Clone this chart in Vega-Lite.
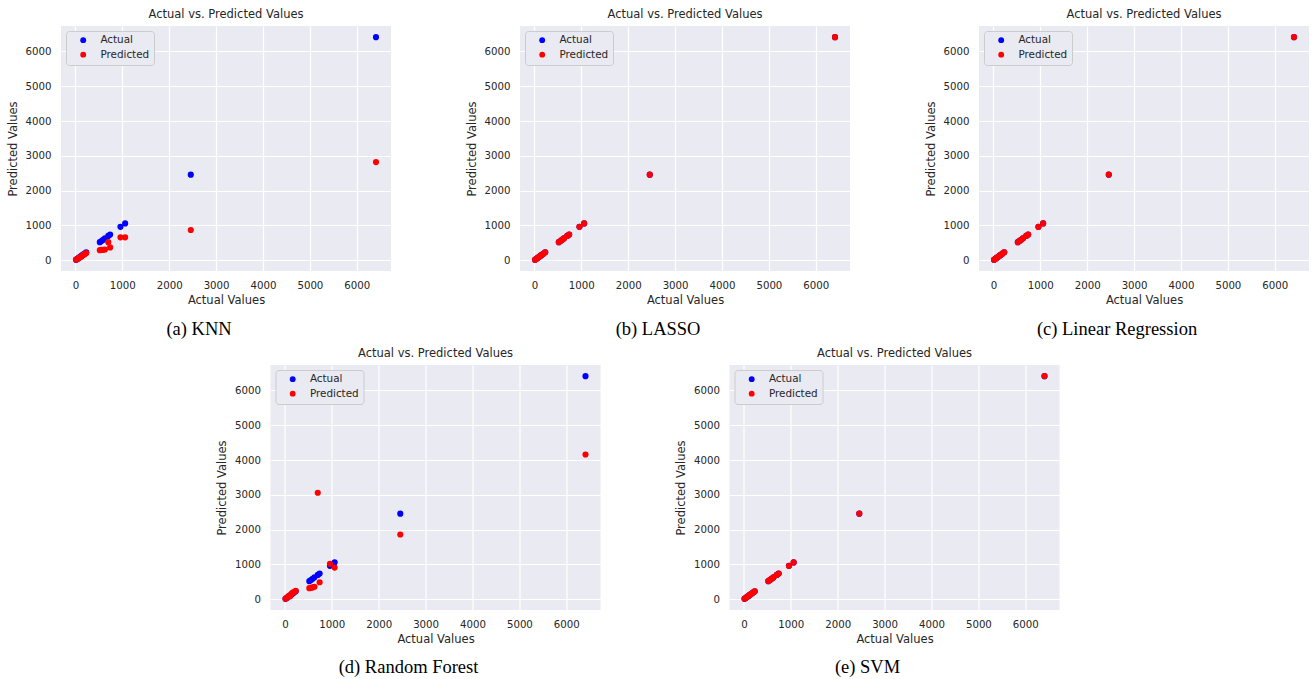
{
  "$schema": "https://vega.github.io/schema/vega-lite/v6.json",
  "padding": {"left": 7, "top": 8, "right": 5, "bottom": 5},
  "background": "#ffffff",
  "datasets": {
    "pts": [
      {"model": "KNN", "Actual": 12, "Predicted": 20},
      {"model": "KNN", "Actual": 35, "Predicted": 30},
      {"model": "KNN", "Actual": 60, "Predicted": 50},
      {"model": "KNN", "Actual": 85, "Predicted": 75},
      {"model": "KNN", "Actual": 110, "Predicted": 95},
      {"model": "KNN", "Actual": 140, "Predicted": 120},
      {"model": "KNN", "Actual": 165, "Predicted": 150},
      {"model": "KNN", "Actual": 195, "Predicted": 175},
      {"model": "KNN", "Actual": 230, "Predicted": 205},
      {"model": "KNN", "Actual": 520, "Predicted": 290},
      {"model": "KNN", "Actual": 555, "Predicted": 300},
      {"model": "KNN", "Actual": 590, "Predicted": 300},
      {"model": "KNN", "Actual": 630, "Predicted": 310},
      {"model": "KNN", "Actual": 700, "Predicted": 520},
      {"model": "KNN", "Actual": 740, "Predicted": 370},
      {"model": "KNN", "Actual": 960, "Predicted": 660},
      {"model": "KNN", "Actual": 1060, "Predicted": 660},
      {"model": "KNN", "Actual": 2460, "Predicted": 870},
      {"model": "KNN", "Actual": 6410, "Predicted": 2820},
      {"model": "LASSO", "Actual": 12, "Predicted": 14},
      {"model": "LASSO", "Actual": 35, "Predicted": 37},
      {"model": "LASSO", "Actual": 60, "Predicted": 59},
      {"model": "LASSO", "Actual": 85, "Predicted": 87},
      {"model": "LASSO", "Actual": 110, "Predicted": 111},
      {"model": "LASSO", "Actual": 140, "Predicted": 139},
      {"model": "LASSO", "Actual": 165, "Predicted": 166},
      {"model": "LASSO", "Actual": 195, "Predicted": 194},
      {"model": "LASSO", "Actual": 230, "Predicted": 229},
      {"model": "LASSO", "Actual": 520, "Predicted": 521},
      {"model": "LASSO", "Actual": 555, "Predicted": 554},
      {"model": "LASSO", "Actual": 590, "Predicted": 591},
      {"model": "LASSO", "Actual": 630, "Predicted": 629},
      {"model": "LASSO", "Actual": 700, "Predicted": 701},
      {"model": "LASSO", "Actual": 740, "Predicted": 739},
      {"model": "LASSO", "Actual": 960, "Predicted": 961},
      {"model": "LASSO", "Actual": 1060, "Predicted": 1059},
      {"model": "LASSO", "Actual": 2460, "Predicted": 2459},
      {"model": "LASSO", "Actual": 6410, "Predicted": 6409},
      {"model": "LR", "Actual": 12, "Predicted": 13},
      {"model": "LR", "Actual": 35, "Predicted": 36},
      {"model": "LR", "Actual": 60, "Predicted": 61},
      {"model": "LR", "Actual": 85, "Predicted": 86},
      {"model": "LR", "Actual": 110, "Predicted": 109},
      {"model": "LR", "Actual": 140, "Predicted": 141},
      {"model": "LR", "Actual": 165, "Predicted": 164},
      {"model": "LR", "Actual": 195, "Predicted": 196},
      {"model": "LR", "Actual": 230, "Predicted": 231},
      {"model": "LR", "Actual": 520, "Predicted": 519},
      {"model": "LR", "Actual": 555, "Predicted": 556},
      {"model": "LR", "Actual": 590, "Predicted": 589},
      {"model": "LR", "Actual": 630, "Predicted": 631},
      {"model": "LR", "Actual": 700, "Predicted": 699},
      {"model": "LR", "Actual": 740, "Predicted": 741},
      {"model": "LR", "Actual": 960, "Predicted": 959},
      {"model": "LR", "Actual": 1060, "Predicted": 1061},
      {"model": "LR", "Actual": 2460, "Predicted": 2461},
      {"model": "LR", "Actual": 6410, "Predicted": 6411},
      {"model": "RF", "Actual": 12, "Predicted": 15},
      {"model": "RF", "Actual": 35, "Predicted": 40},
      {"model": "RF", "Actual": 60, "Predicted": 55},
      {"model": "RF", "Actual": 85, "Predicted": 100},
      {"model": "RF", "Actual": 110, "Predicted": 90},
      {"model": "RF", "Actual": 140, "Predicted": 160},
      {"model": "RF", "Actual": 165, "Predicted": 190},
      {"model": "RF", "Actual": 195, "Predicted": 210},
      {"model": "RF", "Actual": 230, "Predicted": 240},
      {"model": "RF", "Actual": 520, "Predicted": 320},
      {"model": "RF", "Actual": 555, "Predicted": 330},
      {"model": "RF", "Actual": 590, "Predicted": 340},
      {"model": "RF", "Actual": 630, "Predicted": 360},
      {"model": "RF", "Actual": 700, "Predicted": 3060},
      {"model": "RF", "Actual": 740, "Predicted": 490},
      {"model": "RF", "Actual": 960, "Predicted": 1020},
      {"model": "RF", "Actual": 1060, "Predicted": 910},
      {"model": "RF", "Actual": 2460, "Predicted": 1860},
      {"model": "RF", "Actual": 6410, "Predicted": 4160},
      {"model": "SVM", "Actual": 12, "Predicted": 15},
      {"model": "SVM", "Actual": 35, "Predicted": 37},
      {"model": "SVM", "Actual": 60, "Predicted": 62},
      {"model": "SVM", "Actual": 85, "Predicted": 87},
      {"model": "SVM", "Actual": 110, "Predicted": 112},
      {"model": "SVM", "Actual": 140, "Predicted": 142},
      {"model": "SVM", "Actual": 165, "Predicted": 166},
      {"model": "SVM", "Actual": 195, "Predicted": 196},
      {"model": "SVM", "Actual": 230, "Predicted": 229},
      {"model": "SVM", "Actual": 520, "Predicted": 522},
      {"model": "SVM", "Actual": 555, "Predicted": 556},
      {"model": "SVM", "Actual": 590, "Predicted": 591},
      {"model": "SVM", "Actual": 630, "Predicted": 629},
      {"model": "SVM", "Actual": 700, "Predicted": 701},
      {"model": "SVM", "Actual": 740, "Predicted": 739},
      {"model": "SVM", "Actual": 960, "Predicted": 961},
      {"model": "SVM", "Actual": 1060, "Predicted": 1059},
      {"model": "SVM", "Actual": 2460, "Predicted": 2461},
      {"model": "SVM", "Actual": 6410, "Predicted": 6411}
    ]
  },
  "data": {"name": "pts"},
  "center": true,
  "spacing": 8,
  "resolve": {"scale": {"color": "independent"}, "legend": {"color": "independent"}},
  "vconcat": [
    {
      "hconcat": [
        {
          "title": {"text": "(a) KNN", "orient": "bottom", "anchor": "middle", "font": "Liberation Serif", "fontSize": 18.5, "fontWeight": "normal", "color": "#000000", "offset": 14},
          "resolve": {"scale": {"color": "independent"}, "legend": {"color": "independent"}},
          "vconcat": [
            {
              "title": {"text": "Actual vs. Predicted Values", "frame": "group"},
              "width": 330, "height": 245,
              "transform": [{"filter": "datum.model === 'KNN'"}, {"fold": ["Actual", "Predicted"], "as": ["type", "yval"]}],
              "mark": {"type": "point", "filled": true, "size": 38, "opacity": 1},
              "encoding": {
                "x": {"field": "Actual", "type": "quantitative", "scale": {"domain": [-308, 6730], "nice": false, "zero": false}, "axis": {"title": "Actual Values", "format": "d", "values": [0, 1000, 2000, 3000, 4000, 5000, 6000]}},
                "y": {"field": "yval", "type": "quantitative", "scale": {"domain": [-308, 6730], "nice": false, "zero": false}, "axis": {"title": "Predicted Values", "format": "d", "values": [0, 1000, 2000, 3000, 4000, 5000, 6000]}},
                "color": {"field": "type", "type": "nominal", "scale": {"domain": ["Actual", "Predicted"], "range": ["#0000ff", "#ff0000"]}, "legend": {"title": null}},
                "order": {"field": "type"}
              }
            }
          ]
        },
        {
          "title": {"text": "(b) LASSO", "orient": "bottom", "anchor": "middle", "font": "Liberation Serif", "fontSize": 18.5, "fontWeight": "normal", "color": "#000000", "offset": 14},
          "resolve": {"scale": {"color": "independent"}, "legend": {"color": "independent"}},
          "vconcat": [
            {
              "title": {"text": "Actual vs. Predicted Values", "frame": "group"},
              "width": 330, "height": 245,
              "transform": [{"filter": "datum.model === 'LASSO'"}, {"fold": ["Actual", "Predicted"], "as": ["type", "yval"]}],
              "mark": {"type": "point", "filled": true, "size": 38, "opacity": 1},
              "encoding": {
                "x": {"field": "Actual", "type": "quantitative", "scale": {"domain": [-308, 6730], "nice": false, "zero": false}, "axis": {"title": "Actual Values", "format": "d", "values": [0, 1000, 2000, 3000, 4000, 5000, 6000]}},
                "y": {"field": "yval", "type": "quantitative", "scale": {"domain": [-308, 6730], "nice": false, "zero": false}, "axis": {"title": "Predicted Values", "format": "d", "values": [0, 1000, 2000, 3000, 4000, 5000, 6000]}},
                "color": {"field": "type", "type": "nominal", "scale": {"domain": ["Actual", "Predicted"], "range": ["#0000ff", "#ff0000"]}, "legend": {"title": null}},
                "order": {"field": "type"}
              }
            }
          ]
        },
        {
          "title": {"text": "(c) Linear Regression", "orient": "bottom", "anchor": "middle", "font": "Liberation Serif", "fontSize": 18.5, "fontWeight": "normal", "color": "#000000", "offset": 14},
          "resolve": {"scale": {"color": "independent"}, "legend": {"color": "independent"}},
          "vconcat": [
            {
              "title": {"text": "Actual vs. Predicted Values", "frame": "group"},
              "width": 330, "height": 245,
              "transform": [{"filter": "datum.model === 'LR'"}, {"fold": ["Actual", "Predicted"], "as": ["type", "yval"]}],
              "mark": {"type": "point", "filled": true, "size": 38, "opacity": 1},
              "encoding": {
                "x": {"field": "Actual", "type": "quantitative", "scale": {"domain": [-308, 6730], "nice": false, "zero": false}, "axis": {"title": "Actual Values", "format": "d", "values": [0, 1000, 2000, 3000, 4000, 5000, 6000]}},
                "y": {"field": "yval", "type": "quantitative", "scale": {"domain": [-308, 6730], "nice": false, "zero": false}, "axis": {"title": "Predicted Values", "format": "d", "values": [0, 1000, 2000, 3000, 4000, 5000, 6000]}},
                "color": {"field": "type", "type": "nominal", "scale": {"domain": ["Actual", "Predicted"], "range": ["#0000ff", "#ff0000"]}, "legend": {"title": null}},
                "order": {"field": "type"}
              }
            }
          ]
        }
      ],
      "spacing": 75,
      "resolve": {"scale": {"color": "independent"}, "legend": {"color": "independent"}}
    },
    {
      "title": {"text": " ", "orient": "right", "fontSize": 30, "offset": 10, "color": "#ffffff"},
      "hconcat": [
        {
          "title": {"text": "(d) Random Forest", "orient": "bottom", "anchor": "middle", "font": "Liberation Serif", "fontSize": 18.5, "fontWeight": "normal", "color": "#000000", "offset": 13},
          "resolve": {"scale": {"color": "independent"}, "legend": {"color": "independent"}},
          "vconcat": [
            {
              "title": {"text": "Actual vs. Predicted Values", "frame": "group"},
              "width": 330, "height": 245,
              "transform": [{"filter": "datum.model === 'RF'"}, {"fold": ["Actual", "Predicted"], "as": ["type", "yval"]}],
              "mark": {"type": "point", "filled": true, "size": 38, "opacity": 1},
              "encoding": {
                "x": {"field": "Actual", "type": "quantitative", "scale": {"domain": [-308, 6730], "nice": false, "zero": false}, "axis": {"title": "Actual Values", "format": "d", "values": [0, 1000, 2000, 3000, 4000, 5000, 6000]}},
                "y": {"field": "yval", "type": "quantitative", "scale": {"domain": [-308, 6730], "nice": false, "zero": false}, "axis": {"title": "Predicted Values", "format": "d", "values": [0, 1000, 2000, 3000, 4000, 5000, 6000]}},
                "color": {"field": "type", "type": "nominal", "scale": {"domain": ["Actual", "Predicted"], "range": ["#0000ff", "#ff0000"]}, "legend": {"title": null}},
                "order": {"field": "type"}
              }
            }
          ]
        },
        {
          "title": {"text": "(e) SVM", "orient": "bottom", "anchor": "middle", "font": "Liberation Serif", "fontSize": 18.5, "fontWeight": "normal", "color": "#000000", "offset": 13},
          "resolve": {"scale": {"color": "independent"}, "legend": {"color": "independent"}},
          "vconcat": [
            {
              "title": {"text": "Actual vs. Predicted Values", "frame": "group"},
              "width": 330, "height": 245,
              "transform": [{"filter": "datum.model === 'SVM'"}, {"fold": ["Actual", "Predicted"], "as": ["type", "yval"]}],
              "mark": {"type": "point", "filled": true, "size": 38, "opacity": 1},
              "encoding": {
                "x": {"field": "Actual", "type": "quantitative", "scale": {"domain": [-308, 6730], "nice": false, "zero": false}, "axis": {"title": "Actual Values", "format": "d", "values": [0, 1000, 2000, 3000, 4000, 5000, 6000]}},
                "y": {"field": "yval", "type": "quantitative", "scale": {"domain": [-308, 6730], "nice": false, "zero": false}, "axis": {"title": "Predicted Values", "format": "d", "values": [0, 1000, 2000, 3000, 4000, 5000, 6000]}},
                "color": {"field": "type", "type": "nominal", "scale": {"domain": ["Actual", "Predicted"], "range": ["#0000ff", "#ff0000"]}, "legend": {"title": null}},
                "order": {"field": "type"}
              }
            }
          ]
        }
      ],
      "spacing": 75,
      "resolve": {"scale": {"color": "independent"}, "legend": {"color": "independent"}}
    }
  ],
  "config": {
    "font": "DejaVu Sans",
    "view": {"fill": "#EAEAF2", "stroke": null},
    "axis": {"domain": false, "ticks": false, "tickSize": 0, "grid": true, "gridColor": "#ffffff", "gridWidth": 1.2, "gridOpacity": 1, "labelFont": "DejaVu Sans", "labelFontSize": 10.2, "labelColor": "#262626", "labelFlush": false, "titleFont": "DejaVu Sans", "titleFontSize": 11.5, "titleFontWeight": "normal", "titleColor": "#262626"},
    "axisX": {"labelPadding": 9, "titlePadding": 4},
    "axisY": {"labelPadding": 10, "titlePadding": 7},
    "title": {"font": "DejaVu Sans", "fontSize": 11.5, "fontWeight": "normal", "color": "#262626", "offset": 6},
    "legend": {"orient": "top-left", "offset": 5, "padding": 4, "fillColor": "#EAEAF2", "strokeColor": "#CCCCCC", "cornerRadius": 3, "labelFont": "DejaVu Sans", "labelFontSize": 10.4, "labelColor": "#262626", "symbolSize": 34, "symbolType": "circle", "symbolOffset": 8, "labelOffset": 12, "rowPadding": 3.5, "symbolStrokeWidth": 0}
  }
}
